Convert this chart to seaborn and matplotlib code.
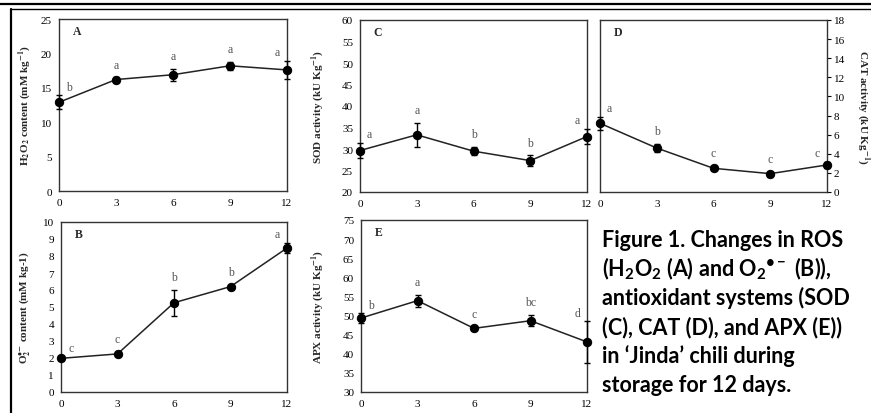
import numpy as np
import pandas as pd
import matplotlib
matplotlib.use("Agg")
import matplotlib.pyplot as plt
from matplotlib.lines import Line2D
import seaborn as sns

# storage days
days = [0, 3, 6, 9, 12]

# A: H2O2
h2o2 = [12.9, 16.2, 16.9, 18.2, 17.6]
h2o2_err = [1.0, 0.3, 0.85, 0.6, 1.35]
h2o2_sig = ["b", "a", "a", "a", "a"]

# B: superoxide
o2 = [1.98, 2.24, 5.25, 6.2, 8.47]
o2_err = [0.08, 0.1, 0.77, 0.1, 0.3]
o2_sig = ["c", "c", "b", "b", "a"]

# C: SOD
sod = [29.65, 33.3, 29.5, 27.3, 32.9]
sod_err = [1.8, 2.8, 1.0, 1.2, 1.8]
sod_sig = ["a", "a", "b", "b", "a"]

# D: CAT
cat = [7.19, 4.6, 2.48, 1.92, 2.83]
cat_err = [0.7, 0.4, 0.2, 0.15, 0.35]
cat_sig = ["a", "b", "c", "c", "c"]

# E: APX
apx = [49.35, 53.9, 46.65, 48.65, 43.1]
apx_err = [1.2, 1.6, 0.5, 1.4, 5.4]
apx_sig = ["b", "a", "c", "bc", "d"]

caption = [
    "Figure 1. Changes in ROS",
    "(H$_2$O$_2$ (A) and O$_2$$^{\u2022-}$ (B)),",
    "antioxidant systems (SOD",
    "(C), CAT (D), and APX (E))",
    "in \u2018Jinda\u2019 chili during",
    "storage for 12 days.",
]

sns.set_theme(style="white")
plt.rcParams["font.family"] = ["Liberation Serif", "DejaVu Serif"]
plt.rcParams["mathtext.fontset"] = "custom"
plt.rcParams["mathtext.rm"] = "Lato:bold"
plt.rcParams["mathtext.bf"] = "Lato:bold"
plt.rcParams["mathtext.it"] = "Lato:bold"

W, H = 871, 414
fig = plt.figure(figsize=(W / 100, H / 100), dpi=100)


def px_axes(l, t, r, b):
    return fig.add_axes([l / W, 1 - b / H, (r - l) / W, (b - t) / H])


def panel(ax, vals, errs, sigs, letter, ylim, yticks, ylabel, labx, right=False):
    df = pd.DataFrame({"day": days, "val": vals})
    sns.lineplot(data=df, x="day", y="val", ax=ax, color="#222222", lw=1.1,
                 marker="o", markersize=6, markeredgecolor="black",
                 markerfacecolor="black", zorder=3, clip_on=False)
    ax.errorbar(days, vals, yerr=errs, fmt="none", ecolor="black",
                elinewidth=1.0, capsize=2.2, capthick=1.0, zorder=4, clip_on=False)
    for i, (d, v, e, s) in enumerate(zip(days, vals, errs, sigs)):
        if i == 0:
            off = (7, 2)
        elif i == len(days) - 1:
            off = (-7, 2)
        else:
            off = (0, 5)
        ax.annotate(s, (d, v + e), xytext=off, textcoords="offset points",
                    ha="center", va="bottom", fontsize=8.5, color="#555555")
    ax.text(0.06, 0.93, letter, transform=ax.transAxes, fontsize=8.5,
            fontweight="bold", va="center", ha="left")
    ax.set_xlim(0, 12)
    ax.set_xticks(days)
    ax.set_ylim(*ylim)
    ax.set_yticks(yticks)
    ax.set_xlabel("")
    ax.tick_params(axis="both", direction="out", length=3, width=0.8,
                   pad=2, labelsize=8, colors="black")
    for sp in ax.spines.values():
        sp.set_visible(True)
        sp.set_color("#333333")
        sp.set_linewidth(1.0)
    if right:
        ax.yaxis.tick_right()
        ax.yaxis.set_label_position("right")
        ax.set_ylabel(ylabel, fontsize=8, fontweight="bold", rotation=270,
                      math_fontfamily="stix", va="center", ha="center")
    else:
        ax.set_ylabel(ylabel, fontsize=8, fontweight="bold",
                      math_fontfamily="stix", va="center", ha="center")
    ax.yaxis.set_label_coords(labx, 0.5)


axA = px_axes(59, 20, 287, 192)
panel(axA, h2o2, h2o2_err, h2o2_sig, "A", (0, 25), np.arange(0, 26, 5),
      r"H$_\mathbf{2}$O$_\mathbf{2}$ content (mM kg$^{\mathbf{-1}}$)", -0.15)

axC = px_axes(360, 21, 587, 193)
panel(axC, sod, sod_err, sod_sig, "C", (20, 60), np.arange(20, 61, 5),
      r"SOD activity (kU Kg$^{\mathbf{-1}}$)", -0.185)

axD = px_axes(600, 21, 827, 193)
panel(axD, cat, cat_err, cat_sig, "D", (0, 18), np.arange(0, 19, 2),
      r"CAT activity (kU Kg$^{\mathbf{-1}}$)", 1.16, right=True)

axB = px_axes(61, 223, 287, 393)
panel(axB, o2, o2_err, o2_sig, "B", (0, 10), np.arange(0, 11, 1),
      "O$_\\mathbf{2}^{\u2022\\mathbf{-}}$ content (mM kg-1)", -0.16)

axE = px_axes(361, 221, 587, 393)
panel(axE, apx, apx_err, apx_sig, "E", (30, 75), np.arange(30, 76, 5),
      r"APX activity (kU Kg$^{\mathbf{-1}}$)", -0.19)

# caption block
for i, line in enumerate(caption):
    fig.text(602 / W, 1 - (247 + 29 * i) / H, line, family="Lato",
             fontweight="bold", fontsize=15.5, va="baseline", ha="left",
             color="black")

# page frame lines
fig.add_artist(Line2D([0, 1], [1 - 5 / H, 1 - 5 / H], color="black", lw=1.6,
                      transform=fig.transFigure))
fig.add_artist(Line2D([11 / W, 1], [1 - 10 / H, 1 - 10 / H], color="black",
                      lw=1.0, transform=fig.transFigure))
fig.add_artist(Line2D([11 / W, 11 / W], [0, 1 - 10 / H], color="black",
                      lw=1.6, transform=fig.transFigure))

fig.savefig("out.png", dpi=100)
